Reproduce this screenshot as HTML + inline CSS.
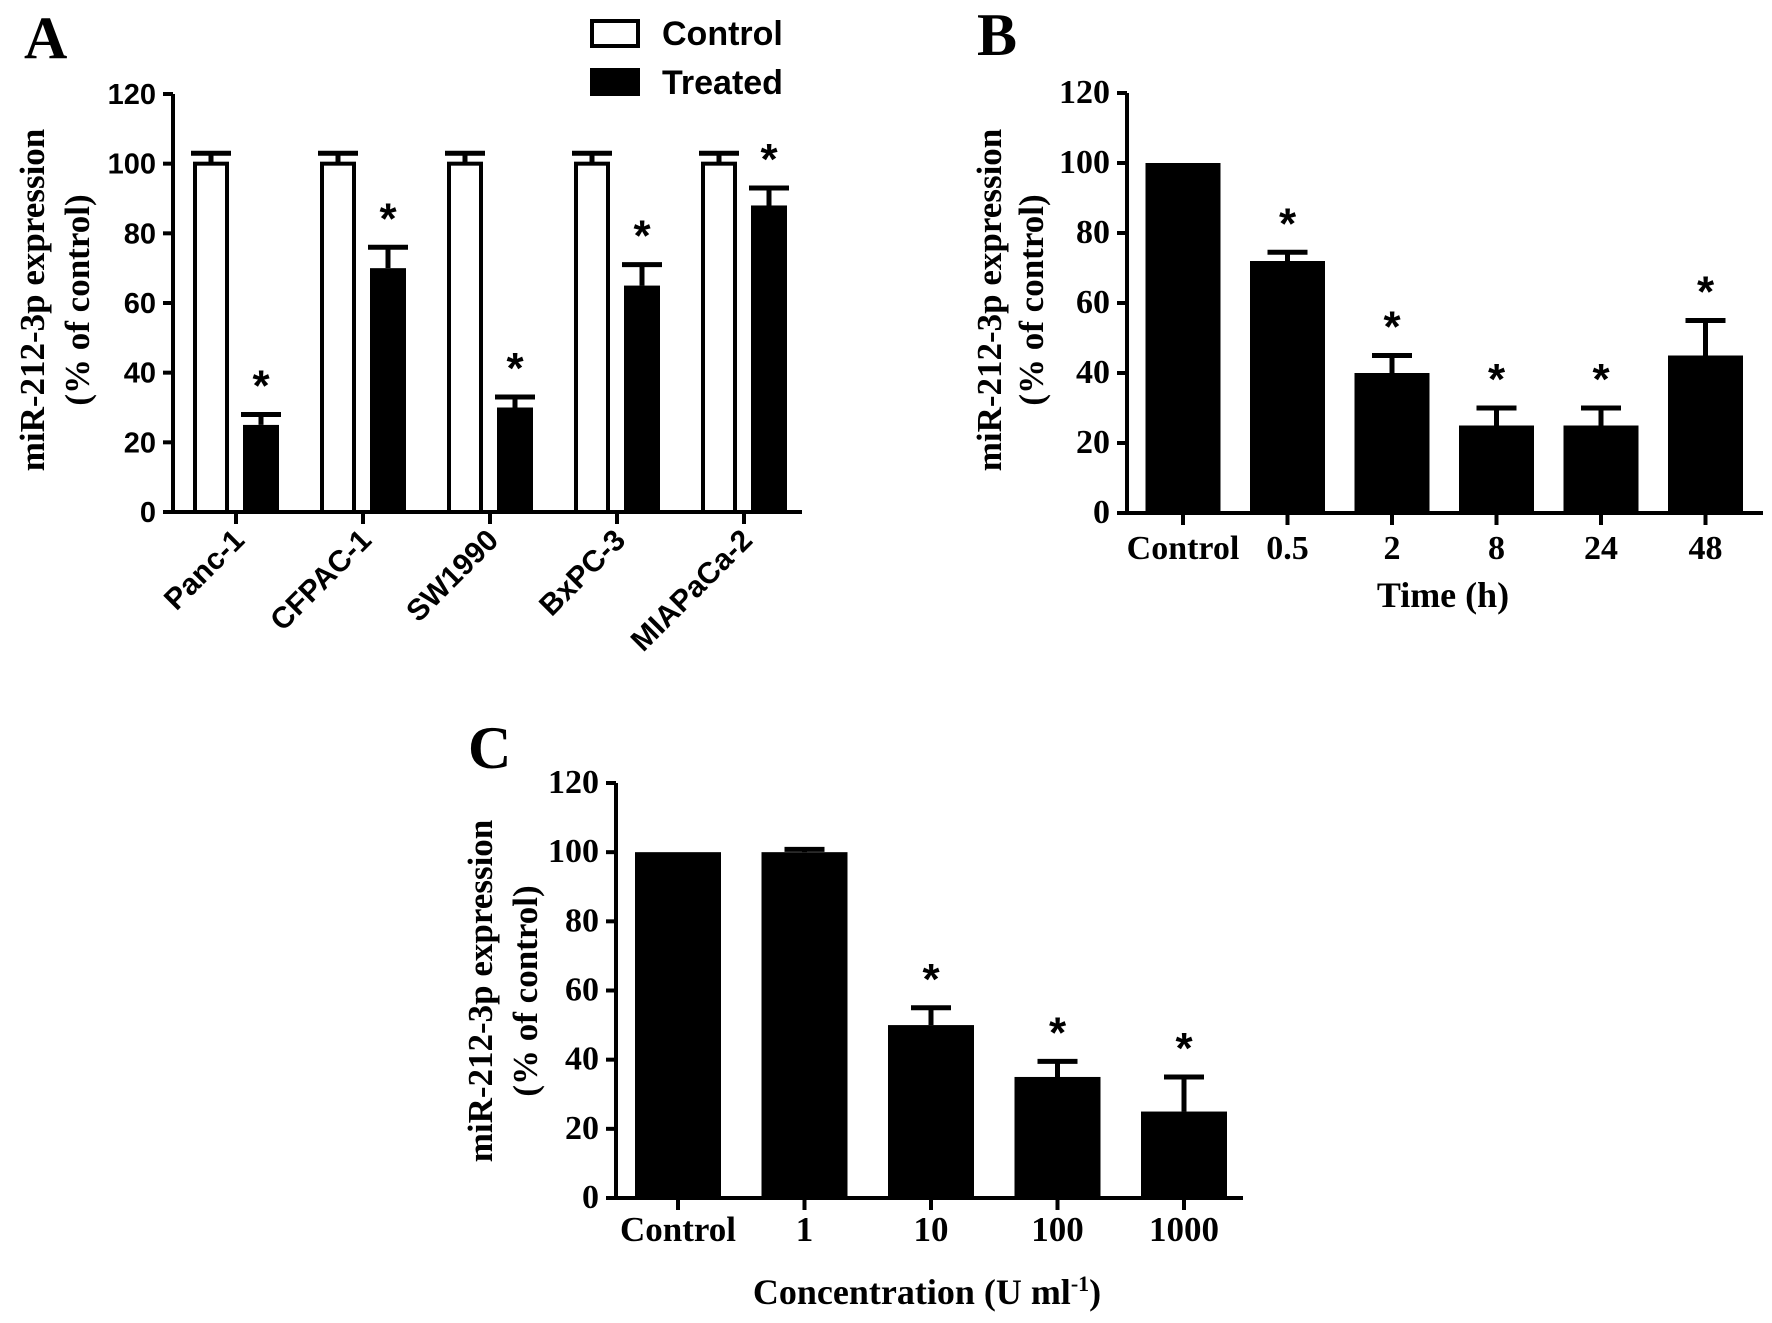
<!DOCTYPE html>
<html><head><meta charset="utf-8"><style>
html,body{margin:0;padding:0;background:#fff;}
svg{display:block;}
.sans{font-family:"Liberation Sans",Arial,sans-serif;font-weight:bold;}
.serif{font-family:"Liberation Serif","Times New Roman",serif;font-weight:bold;}
</style></head><body>
<svg id="fig" width="1772" height="1323" viewBox="0 0 1772 1323" xmlns="http://www.w3.org/2000/svg">
<rect width="1772" height="1323" fill="#fff"/>
<g id="gA"></g>
<g id="gB"></g>
<g id="gC"></g>
</svg>
<script>
// Panel A data
const catsA = ["Panc-1","CFPAC-1","SW1990","BxPC-3","MIAPaCa-2"];
const ctrlA = [100,100,100,100,100];
const ctrlErrA = [3,3,3,3,3];
const treatA = [25,70,30,65,88];
const treatErrA = [3,6,3,6,5];
const sigA = [true,true,true,true,true];
// Panel B data
const catsB = ["Control","0.5","2","8","24","48"];
const valsB = [100,72,40,25,25,45];
const errB = [0,2.5,5,5,5,10];
const sigB = [false,true,true,true,true,true];
// Panel C data
const catsC = ["Control","1","10","100","1000"];
const valsC = [100,100,50,35,25];
const errC = [0,0.8,5,4.5,10];
const sigC = [false,false,true,true,true];
const yTicks = [0,20,40,60,80,100,120];

const NS="http://www.w3.org/2000/svg";
function mk(parent,tag,attrs,text){
  const e=document.createElementNS(NS,tag);
  for(const k in attrs) e.setAttribute(k,attrs[k]);
  if(text!==undefined) e.textContent=text;
  parent.appendChild(e);return e;
}
function axes(g,cfg){
  const y=v=>cfg.y0-(v/120)*(cfg.y0-cfg.y120);
  const ax=mk(g,'path',{d:`M${cfg.x0} ${cfg.y120}V${cfg.y0}H${cfg.xEnd}`,fill:'none',stroke:'#000','stroke-width':4});
  
  
  yTicks.forEach(t=>{
    const tk=mk(g,'line',{x1:cfg.x0-10,x2:cfg.x0,y1:y(t),y2:y(t),stroke:'#000','stroke-width':4});
    
    
    const tl=mk(g,'text',{x:cfg.x0-17,y:y(t)+10,'text-anchor':'end','font-size':cfg.tickFont,class:cfg.tickClass},String(t));
    
    
  });
  return y;
}
function errbar(g,cx,yTop,yBar,name){
  const e=mk(g,'path',{d:`M${cx} ${yBar}V${yTop}M${cx-20} ${yTop}H${cx+20}`,stroke:'#000','stroke-width':5,fill:'none'});
  
  
}
function star(g,cx,yTop){
  const s=mk(g,'text',{x:cx,y:yTop-14,'text-anchor':'middle','font-size':44,class:'sans'},'*');
  
  
}
function ylabel(g,x1,x2,cy,font){
  const t=mk(g,'text',{transform:`translate(${x1},${cy}) rotate(-90)`,'text-anchor':'middle','font-size':font,class:'serif'},'miR-212-3p expression');
  
  
  const t2=mk(g,'text',{transform:`translate(${x2},${cy}) rotate(-90)`,'text-anchor':'middle','font-size':font,class:'serif'},'(% of control)');
  
  
}
function letter(g,x,y,s){
  const t=mk(g,'text',{x:x,y:y,'font-size':60,class:'serif'},s);
  
  
}

// ---- Panel A
(function(){
  const g=document.getElementById('gA');
  const cfg={x0:173,y0:512,y120:94,xEnd:802,tickFont:29,tickClass:'sans'};
  const y=axes(g,cfg);
  const c0=236, step=127, off=25, w=32;
  catsA.forEach((c,i)=>{
    const cx=c0+i*step;
    const tk=mk(g,'line',{x1:cx,x2:cx,y1:cfg.y0,y2:cfg.y0+12,stroke:'#000','stroke-width':4});
    
    
    const xc=cx-off, xt=cx+off;
    errbar(g,xc,y(ctrlA[i]+ctrlErrA[i]),y(ctrlA[i]),'control-error-bar');
    const b=mk(g,'rect',{x:xc-w/2,y:y(ctrlA[i]),width:w,height:cfg.y0-y(ctrlA[i]),fill:'#fff',stroke:'#000','stroke-width':4});
    
    
    errbar(g,xt,y(treatA[i]+treatErrA[i]),y(treatA[i]),'treated-error-bar');
    const b2=mk(g,'rect',{x:xt-w/2-2,y:y(treatA[i]),width:w+4,height:cfg.y0-y(treatA[i]),fill:'#000'});
    
    
    if(sigA[i]) star(g,xt,y(treatA[i]+treatErrA[i]));
    const lx=cx+10, ly=cfg.y0+30;
    const l=mk(g,'text',{transform:`translate(${lx},${ly}) rotate(-45)`,'text-anchor':'end','font-size':30,class:'sans'},c);
    
    
  });
  ylabel(g,44,89,300,35);
  letter(g,24,58,'A');
  const lb=mk(g,'rect',{x:592,y:21,width:46,height:25,fill:'#fff',stroke:'#000','stroke-width':4});
  
  
  const lt=mk(g,'text',{x:662,y:45,'font-size':34,class:'sans'},'Control');
  
  
  const lb2=mk(g,'rect',{x:590,y:68,width:50,height:28,fill:'#000'});
  
  
  const lt2=mk(g,'text',{x:662,y:94,'font-size':34,class:'sans'},'Treated');
  
  
})();

// ---- Panel B
(function(){
  const g=document.getElementById('gB');
  const cfg={x0:1127,y0:513,y120:93,xEnd:1763,tickFont:34,tickClass:'serif'};
  const y=axes(g,cfg);
  const c0=1183, step=104.5, w=75;
  catsB.forEach((c,i)=>{
    const cx=c0+i*step;
    const tk=mk(g,'line',{x1:cx,x2:cx,y1:cfg.y0,y2:cfg.y0+12,stroke:'#000','stroke-width':4});
    
    
    if(errB[i]>0) errbar(g,cx,y(valsB[i]+errB[i]),y(valsB[i]),'error-bar');
    const b=mk(g,'rect',{x:cx-w/2,y:y(valsB[i]),width:w,height:cfg.y0-y(valsB[i]),fill:'#000'});
    
    
    if(sigB[i]) star(g,cx,y(valsB[i]+errB[i]));
    const l=mk(g,'text',{x:cx,y:559,'text-anchor':'middle','font-size':34,class:'serif'},c);
    
    
  });
  const xt=mk(g,'text',{x:1443,y:607,'text-anchor':'middle','font-size':36,class:'serif'},'Time (h)');
  
  
  ylabel(g,1001,1043,300,35);
  letter(g,977,55,'B');
})();

// ---- Panel C
(function(){
  const g=document.getElementById('gC');
  const cfg={x0:616,y0:1198,y120:783,xEnd:1243,tickFont:34,tickClass:'serif'};
  const y=axes(g,cfg);
  const c0=678, step=126.5, w=86;
  catsC.forEach((c,i)=>{
    const cx=c0+i*step;
    const tk=mk(g,'line',{x1:cx,x2:cx,y1:cfg.y0,y2:cfg.y0+12,stroke:'#000','stroke-width':4});
    
    
    if(errC[i]>0) errbar(g,cx,y(valsC[i]+errC[i]),y(valsC[i]),'error-bar');
    const b=mk(g,'rect',{x:cx-w/2,y:y(valsC[i]),width:w,height:cfg.y0-y(valsC[i]),fill:'#000'});
    
    
    if(sigC[i]) star(g,cx,y(valsC[i]+errC[i]));
    const l=mk(g,'text',{x:cx,y:1241,'text-anchor':'middle','font-size':35,class:'serif'},c);
    
    
  });
  const xt=mk(g,'text',{x:927,y:1304,'text-anchor':'middle','font-size':36,class:'serif'});
  
  
  xt.appendChild(document.createTextNode('Concentration (U ml'));
  const sup=mk(xt,'tspan',{dy:-13,'font-size':22},'-1');
  mk(xt,'tspan',{dy:13},')');
  ylabel(g,492,537,991,35);
  letter(g,468,768,'C');
})();
</script>
</body></html>
